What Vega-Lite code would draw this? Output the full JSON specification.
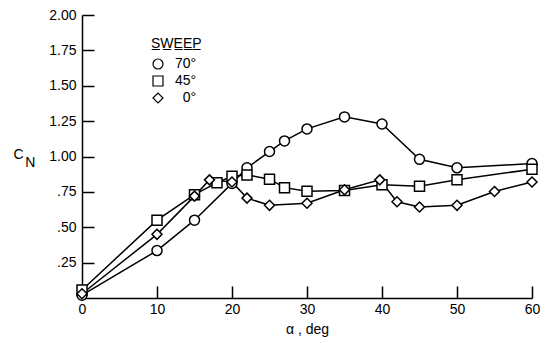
{
  "$schema": "https://vega.github.io/schema/vega-lite/v6.json",
  "width": 450,
  "height": 283,
  "autosize": {"type": "none"},
  "padding": {"left": 82, "top": 15, "right": 15, "bottom": 45},
  "background": "white",
  "config": {
    "view": {"stroke": null},
    "font": "Liberation Sans",
    "axis": {
      "grid": false,
      "domainColor": "black",
      "domainWidth": 1.5,
      "tickColor": "black",
      "tickWidth": 1.5,
      "tickSize": -12,
      "labelFont": "Liberation Sans",
      "labelFontSize": 14,
      "labelColor": "black",
      "titleFont": "Liberation Sans",
      "titleFontSize": 14,
      "titleFontWeight": "normal",
      "titleColor": "black"
    }
  },
  "data": {
    "values": [
      {"sweep": "70", "alpha": 0, "cn": 0.02},
      {"sweep": "70", "alpha": 10, "cn": 0.335},
      {"sweep": "70", "alpha": 15, "cn": 0.55},
      {"sweep": "70", "alpha": 20, "cn": 0.81},
      {"sweep": "70", "alpha": 22, "cn": 0.92},
      {"sweep": "70", "alpha": 25, "cn": 1.035},
      {"sweep": "70", "alpha": 27, "cn": 1.11},
      {"sweep": "70", "alpha": 30, "cn": 1.195},
      {"sweep": "70", "alpha": 35, "cn": 1.28},
      {"sweep": "70", "alpha": 40, "cn": 1.23},
      {"sweep": "70", "alpha": 45, "cn": 0.98},
      {"sweep": "70", "alpha": 50, "cn": 0.92},
      {"sweep": "70", "alpha": 60, "cn": 0.95},
      {"sweep": "45", "alpha": 0, "cn": 0.057},
      {"sweep": "45", "alpha": 10, "cn": 0.55},
      {"sweep": "45", "alpha": 15, "cn": 0.73},
      {"sweep": "45", "alpha": 18, "cn": 0.815},
      {"sweep": "45", "alpha": 20, "cn": 0.86},
      {"sweep": "45", "alpha": 22, "cn": 0.87},
      {"sweep": "45", "alpha": 25, "cn": 0.84},
      {"sweep": "45", "alpha": 27, "cn": 0.78},
      {"sweep": "45", "alpha": 30, "cn": 0.755},
      {"sweep": "45", "alpha": 35, "cn": 0.76},
      {"sweep": "45", "alpha": 40, "cn": 0.8},
      {"sweep": "45", "alpha": 45, "cn": 0.79},
      {"sweep": "45", "alpha": 50, "cn": 0.835},
      {"sweep": "45", "alpha": 60, "cn": 0.91},
      {"sweep": "0", "alpha": 0, "cn": 0.03},
      {"sweep": "0", "alpha": 10, "cn": 0.45},
      {"sweep": "0", "alpha": 15, "cn": 0.72},
      {"sweep": "0", "alpha": 17, "cn": 0.835},
      {"sweep": "0", "alpha": 20, "cn": 0.82},
      {"sweep": "0", "alpha": 22, "cn": 0.706},
      {"sweep": "0", "alpha": 25, "cn": 0.655},
      {"sweep": "0", "alpha": 30, "cn": 0.67},
      {"sweep": "0", "alpha": 35, "cn": 0.765},
      {"sweep": "0", "alpha": 39.7, "cn": 0.835},
      {"sweep": "0", "alpha": 42, "cn": 0.68},
      {"sweep": "0", "alpha": 45, "cn": 0.643},
      {"sweep": "0", "alpha": 50, "cn": 0.655},
      {"sweep": "0", "alpha": 55, "cn": 0.753},
      {"sweep": "0", "alpha": 60, "cn": 0.82}
    ]
  },
  "encoding": {
    "x": {
      "field": "alpha",
      "type": "quantitative",
      "scale": {"domain": [0, 60], "nice": false, "zero": false},
      "axis": {
        "values": [0, 10, 20, 30, 40, 50, 60],
        "labelPadding": 16,
        "labelFlush": false,
        "title": "α , deg",
        "titlePadding": 6
      }
    },
    "y": {
      "field": "cn",
      "type": "quantitative",
      "scale": {"domain": [0, 2], "nice": false},
      "axis": {
        "values": [0.25, 0.5, 0.75, 1, 1.25, 1.5, 1.75, 2],
        "labelExpr": "datum.value < 1 ? replace(format(datum.value, '.2f'), '0.', '.') : format(datum.value, '.2f')",
        "labelPadding": 18,
        "title": ["C", "\u200b\u00a0\u00a0\u00a0N"],
        "titleAngle": 0,
        "titleAlign": "left",
        "titleBaseline": "alphabetic",
        "titleX": -69,
        "titleY": 143,
        "titleLineHeight": 8
      }
    }
  },
  "layer": [
    {
      "mark": {"type": "line", "color": "black", "strokeWidth": 1.5},
      "encoding": {"detail": {"field": "sweep"}}
    },
    {
      "mark": {"type": "point", "filled": true, "fill": "white", "stroke": "black", "strokeWidth": 1.5, "opacity": 1},
      "encoding": {
        "shape": {
          "field": "sweep",
          "type": "nominal",
          "scale": {"domain": ["70", "45", "0"], "range": ["circle", "square", "diamond"]},
          "legend": {
            "title": "S̲W̲E̲E̲P̲",
            "orient": "none",
            "legendX": 69,
            "legendY": 22,
            "padding": 0,
            "titleFont": "Liberation Sans",
            "titleFontSize": 14,
            "titleFontWeight": "normal",
            "titleColor": "black",
            "titlePadding": 6,
            "labelFont": "Liberation Sans",
            "labelFontSize": 14,
            "labelColor": "black",
            "labelExpr": "(datum.label == '0' ? '\u200b\u2007' : '') + datum.label + '°'",
            "labelOffset": 10,
            "rowPadding": 1,
            "symbolFillColor": "white",
            "symbolStrokeColor": "black",
            "symbolStrokeWidth": 1.2
          }
        },
        "size": {
          "field": "sweep",
          "type": "nominal",
          "scale": {"domain": ["70", "45", "0"], "range": [100, 100, 180]}
        }
      }
    }
  ]
}
